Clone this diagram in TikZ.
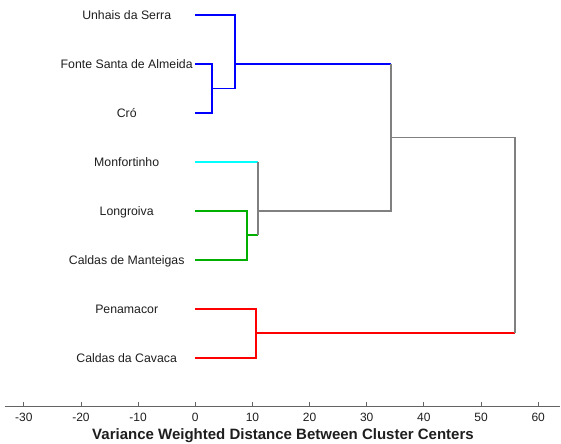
\documentclass[tikz,border=0pt]{standalone}
\usepackage{fontspec}
\setmainfont{Liberation Sans}
\usepackage{xcolor}
\usetikzlibrary{positioning, calc}
\definecolor{linkblue}{RGB}{0,0,255}
\definecolor{linkcyan}{RGB}{0,255,255}
\definecolor{linkgreen}{RGB}{0,176,0}
\definecolor{linkred}{RGB}{255,0,0}
\definecolor{linkgray}{RGB}{128,128,128}
\definecolor{axisgray}{RGB}{100,100,100}
\definecolor{labeltext}{RGB}{30,30,30}

\begin{document}
\begin{tikzpicture}[x=5.715pt, y=-48.96pt,
                    link/.style={line width=1.7pt},
                    leaflabel/.style={anchor=base, text=labeltext, font=\fontsize{12.3}{14}\selectfont},
                    ticklabel/.style={anchor=base, text=labeltext, font=\fontsize{12}{14}\selectfont}]
                    \useasboundingbox (-34.17,-0.306) rectangle (63.99,8.742);
                    \coordinate (unhais) at (0,0);
                    \coordinate (fonte) at (0,1);
                    \coordinate (cro) at (0,2);
                    \coordinate (monf) at (0,3);
                    \coordinate (longr) at (0,4);
                    \coordinate (mant) at (0,5);
                    \coordinate (pena) at (0,6);
                    \coordinate (cavaca) at (0,7);
                    \coordinate (m1) at (2.9,1.5);
                    \coordinate (m2) at (7.0,1);
                    \coordinate (m3) at (9.0,4.5);
                    \coordinate (m4) at (11.0,4);
                    \coordinate (m5) at (34.2,2.5);
                    \coordinate (m6) at (10.6,6.5);
                    \coordinate (m7) at (56.0,4.5);
                    \node[leaflabel] (lunhais) at ($(unhais)+(-12,0.1)$) {Unhais da Serra};
                    \node[leaflabel] (lfonte) at ($(fonte)+(-12,0.1)$) {Fonte Santa de Almeida};
                    \node[leaflabel] (lcro) at ($(cro)+(-12,0.1)$) {Cró};
                    \node[leaflabel] (lmonf) at ($(monf)+(-12,0.1)$) {Monfortinho};
                    \node[leaflabel] (llongr) at ($(longr)+(-12,0.1)$) {Longroiva};
                    \node[leaflabel] (lmant) at ($(mant)+(-12,0.1)$) {Caldas de Manteigas};
                    \node[leaflabel] (lpena) at ($(pena)+(-12,0.1)$) {Penamacor};
                    \node[leaflabel] (lcavaca) at ($(cavaca)+(-12,0.1)$) {Caldas da Cavaca};
                    \draw[link, linkblue] (fonte) -| (m1) |- (cro);
                    \draw[link, linkblue] (unhais) -| (m2) |- (m1);
                    \draw[link, linkblue] (m2) -- (m2 -| m5);
                    \draw[link, linkgreen] (longr) -| (m3) |- (mant);
                    \draw[link, linkgreen] (m3) -- (m3 -| m4);
                    \draw[link, linkcyan] (monf) -- (monf -| m4);
                    \draw[link, linkgray] (monf -| m4) -- (m3 -| m4);
                    \draw[link, linkgray] (m4) -| (m2 -| m5);
                    \draw[link, linkred] (pena) -| (m6) |- (cavaca);
                    \draw[link, linkred] (m6) -- (m6 -| m7);
                    \draw[link, linkgray] (m5) -| (m6 -| m7);
                    \draw[axisgray, line width=0.9pt] (-33.35,8) coordinate (axl) -- (63.8,8) coordinate (axr);
                    \foreach \t in {-30,-20,...,60} {
                        \draw[axisgray, line width=0.9pt] (\t,8) -- (\t,7.9);
                        \node[ticklabel] (tick\t) at (\t,8.31) {\t};
                    }
                    \node[anchor=base, font=\fontsize{15}{17}\selectfont\bfseries, text=labeltext] (xtitle) at (15.35,8.68) {Variance Weighted Distance Between Cluster Centers};
                \end{tikzpicture}
\end{document}
